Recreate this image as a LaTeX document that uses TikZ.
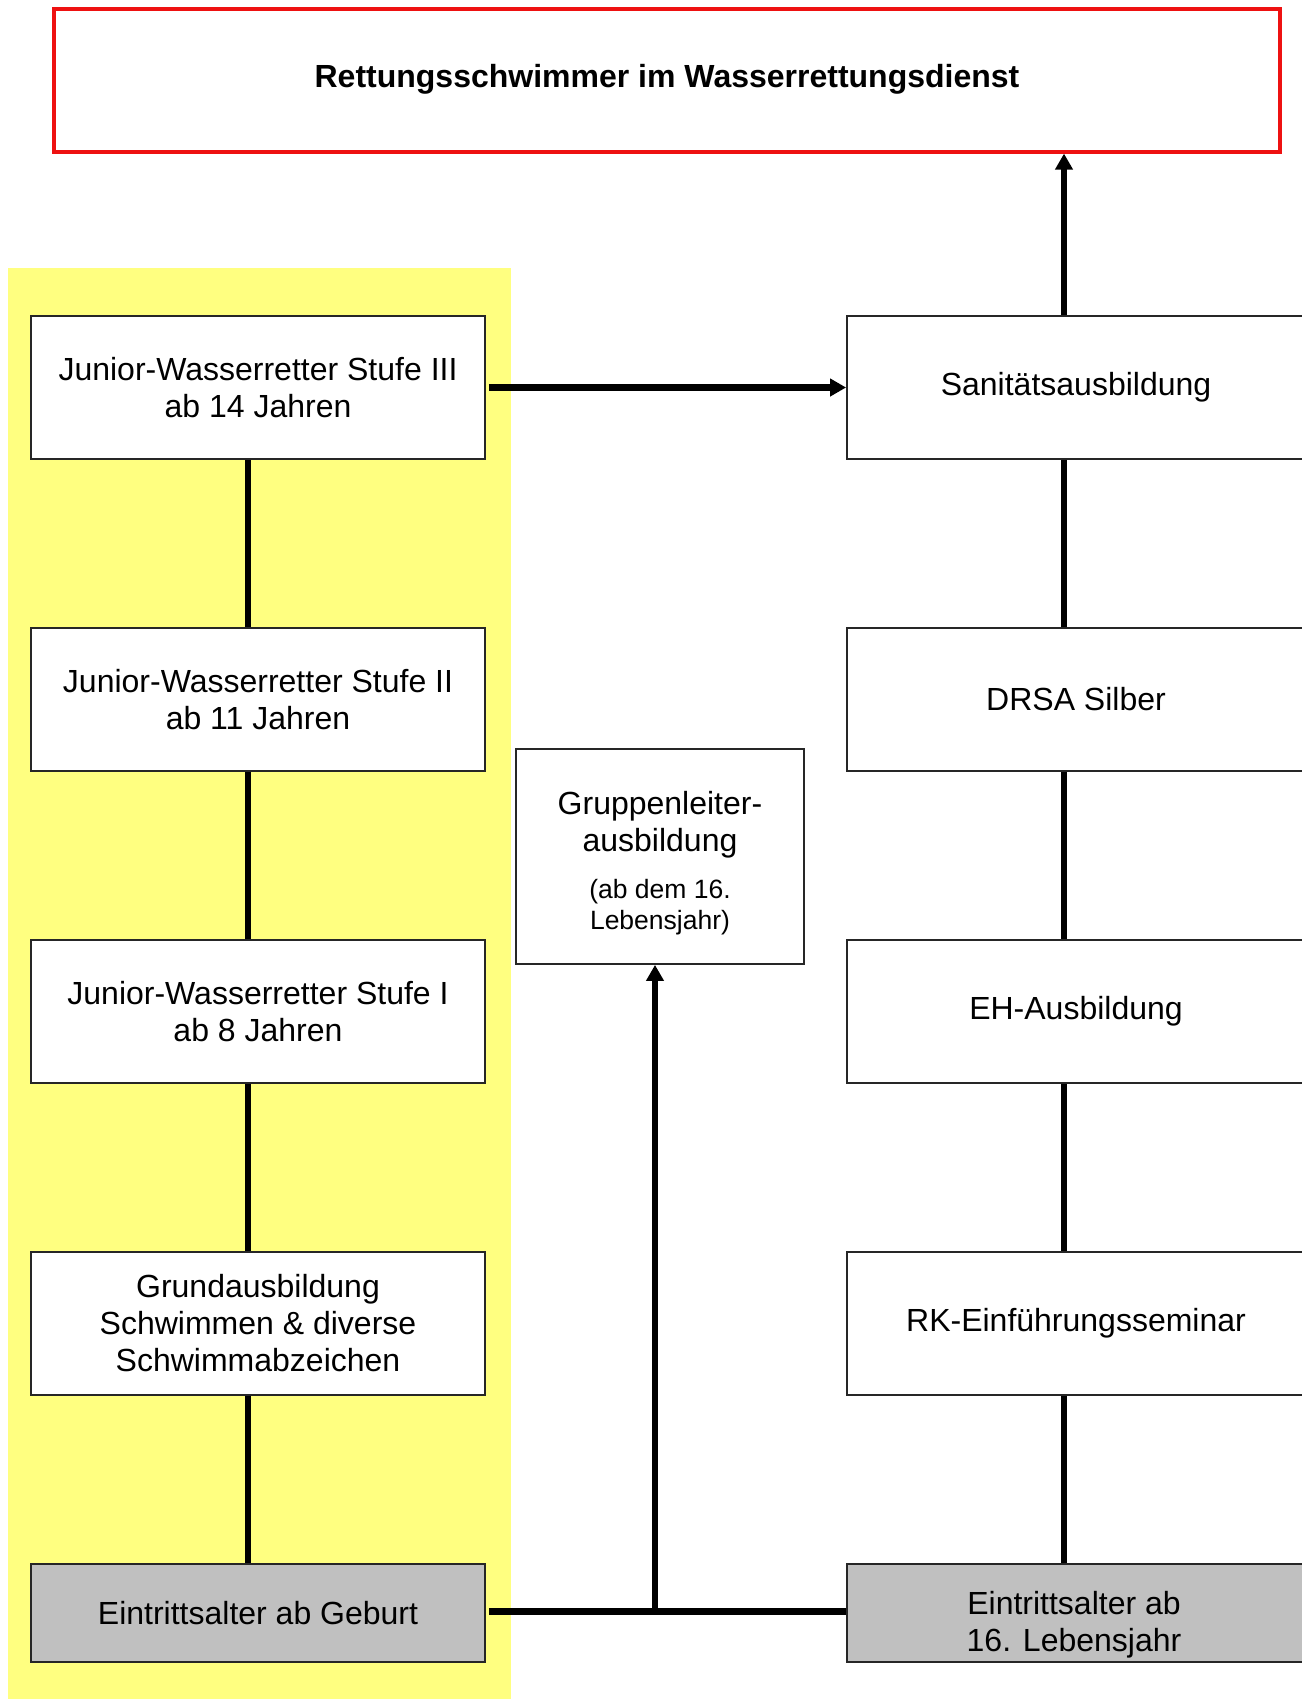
\documentclass[tikz,border=0pt]{standalone}
\usepackage{fontspec}
\setmainfont{Liberation Sans}
\usetikzlibrary{arrows.meta}
\definecolor{bgyellow}{HTML}{FFFF80}
\definecolor{boxgray}{HTML}{C0C0C0}
\definecolor{redline}{HTML}{EE1111}
\begin{document}
\begin{tikzpicture}[x=1pt,y=-1pt,
  box/.style={draw=black!85, line width=1.8pt, fill=white, minimum width=454pt, minimum height=143pt, align=center, inner sep=0pt, font=\fontsize{32}{37}\selectfont},
  rbox/.style={box, minimum width=458pt},
  graybox/.style={fill=boxgray, minimum height=98pt},
  conn/.style={line width=5.2pt},
  thick conn/.style={line width=7pt},
  arr/.style={-{Triangle[length=16pt,width=17pt]}}
]
\useasboundingbox (0,0) rectangle (1301,1699);
\fill[white] (0,0) rectangle (1301,1699);
\fill[bgyellow] (8,268) rectangle (511,1699);
% title
\node[draw=redline, line width=3.2pt, minimum width=1226pt, minimum height=143pt, inner sep=0pt] (title) at (667,80.5) {};
\node[font=\bfseries\fontsize{32}{38}\selectfont] (titletext) at (667,79) {Rettungsschwimmer im Wasserrettungsdienst};
% left column
\node[box] (j3) at (258,387.5) {Junior-Wasserretter Stufe III\\ab 14 Jahren};
\node[box] (j2) at (258,699.5) {Junior-Wasserretter Stufe II\\ab 11 Jahren};
\node[box] (j1) at (258,1011.5) {Junior-Wasserretter Stufe I\\ab 8 Jahren};
\node[box] (gs) at (258,1323.5) {Grundausbildung\\Schwimmen \& diverse\\Schwimmabzeichen};
\node[box, graybox] (geb) at (258,1613) {Eintrittsalter ab Geburt};
% right column
\node[rbox] (san) at (1076,387.5) {Sanitätsausbildung};
\node[rbox] (drsa) at (1076,699.5) {DRSA Silber};
\node[rbox] (eh) at (1076,1011.5) {EH-Ausbildung};
\node[rbox] (rk) at (1076,1323.5) {RK-Einführungsseminar};
\node[rbox, graybox] (e16) at (1076,1613) {};
\node[font=\fontsize{32}{37}\selectfont, align=center, inner sep=0pt] (e16text) at (1074,1625) {Eintrittsalter ab\\16. Lebensjahr};
% middle
\node[draw=black!85, line width=1.8pt, fill=white, minimum width=288pt, minimum height=215pt, inner sep=0pt] (grp) at (660,856.5) {};
\node[font=\fontsize{32}{37}\selectfont, align=center, inner sep=0pt] (grptext) at (660,824.5) {Gruppenleiter-\\ausbildung};
\node[font=\fontsize{26.5}{31}\selectfont, align=center, inner sep=0pt] (grpsmall) at (660,907.5) {(ab dem 16.\\Lebensjahr)};
% connector helpers
\coordinate (lx) at (248,0);
\coordinate (rx) at (1064,0);
\coordinate (jn) at (655,1611);
% left verticals
\draw[conn] (j3.south -| lx) -- (j2.north -| lx);
\draw[conn] (j2.south -| lx) -- (j1.north -| lx);
\draw[conn] (j1.south -| lx) -- (gs.north -| lx);
\draw[conn] (gs.south -| lx) -- (geb.north -| lx);
% right verticals
\draw[conn] (san.south -| rx) -- (drsa.north -| rx);
\draw[conn] (drsa.south -| rx) -- (eh.north -| rx);
\draw[conn] (eh.south -| rx) -- (rk.north -| rx);
\draw[conn] (rk.south -| rx) -- (e16.north -| rx);
% arrows
\draw[conn, arr] (san.north -| rx) -- (title.south -| rx);
\draw[thick conn, arr] ([xshift=3pt]j3.east) -- (san.west);
\draw[thick conn] ([xshift=3pt]geb.east |- jn) -- (e16.west |- jn);
\draw[conn, arr] (jn) -- (grp.south -| jn);
\end{tikzpicture}
\end{document}
